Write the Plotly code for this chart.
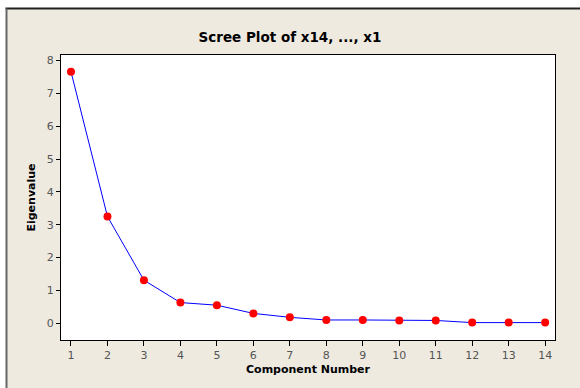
import plotly.graph_objects as go

components = list(range(1, 15))
eigenvalues = [7.66, 3.25, 1.31, 0.63, 0.55, 0.30, 0.18, 0.10, 0.10, 0.085, 0.085, 0.02, 0.02, 0.02]
x_ticks = list(range(1, 15))
y_ticks = list(range(0, 9))

W, H = 580, 388
BEIGE = "#eeeae0"

fig = go.Figure()
fig.add_trace(go.Scatter(
    x=components, y=eigenvalues, mode="lines+markers",
    line=dict(color="#0000ff", width=1),
    marker=dict(color="#ff0000", size=8),
    showlegend=False, hoverinfo="x+y",
))

fig.update_layout(
    width=W, height=H,
    paper_bgcolor=BEIGE, plot_bgcolor="white",
    margin=dict(l=61, r=25, t=55, b=48, pad=0),
    font=dict(family="DejaVu Sans", color="#555555", size=11),
    title=dict(text="<b>Scree Plot of x14, ..., x1</b>", x=0.5, xanchor="center",
               y=1 - 37 / H, yanchor="middle",
               font=dict(family="DejaVu Sans", size=13.5, color="black")),
    xaxis=dict(range=[0.726, 14.27], tickvals=x_ticks, ticks="outside", ticklen=5,
               tickcolor="black", showline=True, linecolor="black", linewidth=1, mirror=True,
               showgrid=False, zeroline=False,
               tickfont=dict(size=11, color="#555555"),
               title=dict(text="<b>Component Number</b>", standoff=4,
                          font=dict(size=11, color="black"))),
    yaxis=dict(range=[-0.51, 8.17], tickvals=y_ticks, ticks="outside", ticklen=4,
               tickcolor="black", showline=True, linecolor="black", linewidth=1, mirror=True,
               showgrid=False, zeroline=False,
               tickfont=dict(size=11, color="#555555"),
               title=dict(text="<b>Eigenvalue</b>", standoff=8,
                          font=dict(size=11, color="black"))),
    shapes=[
        dict(type="rect", xref="paper", yref="paper", x0=-61 / 494, x1=(580 - 61) / 494,
             y0=1 + 47 / 285, y1=1 + 56 / 285, fillcolor="white", line=dict(width=0), layer="above"),
        dict(type="rect", xref="paper", yref="paper", x0=-61 / 494, x1=-55 / 494,
             y0=-49 / 285, y1=1 + 56 / 285, fillcolor="white", line=dict(width=0), layer="above"),
        dict(type="line", xref="paper", yref="paper", x0=-55.5 / 494, x1=(580 - 61) / 494,
             y0=1 + 46.5 / 285, y1=1 + 46.5 / 285, line=dict(color="#222222", width=2)),
        dict(type="line", xref="paper", yref="paper", x0=-54.5 / 494, x1=-54.5 / 494,
             y0=-49 / 285, y1=1 + 46.5 / 285, line=dict(color="#666666", width=2)),
    ],
)

fig.write_html(
    "out.html", config={"displayModeBar": False},
    post_script=("document.body.style.margin='0';document.body.style.overflow='hidden';"
                 "document.documentElement.style.overflow='hidden';"),
)
